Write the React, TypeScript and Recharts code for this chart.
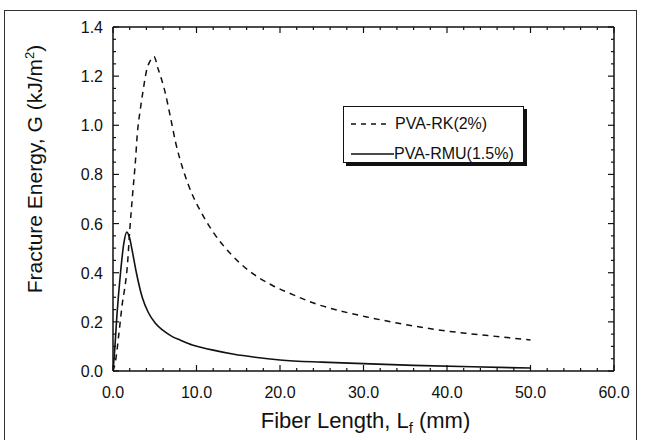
import React from 'react';
import { LineChart, Line, XAxis, YAxis, Legend } from 'recharts';

// ── data: fiber length (mm) vs fracture energy (kJ/m2) ──

const rkLength = [0, 0.3, 0.7, 1.1, 1.5, 1.7, 2.0, 2.35, 2.7, 2.9, 3.25, 3.6, 4.0, 4.5, 4.9, 5.4, 6.2, 6.9, 7.5, 8.3, 9.0, 9.6, 10.5, 11.9, 14.0, 16.4, 19.0, 21.6, 24.4, 27.2, 30.4, 33.6, 36.4, 38.4, 42.4, 46.4, 50];
const rkEnergy = [0, 0.04, 0.15, 0.27, 0.36, 0.42, 0.57, 0.72, 0.86, 0.96, 1.06, 1.14, 1.22, 1.265, 1.28, 1.23, 1.14, 1.03, 0.93, 0.83, 0.76, 0.71, 0.65, 0.57, 0.48, 0.405, 0.35, 0.31, 0.272, 0.245, 0.22, 0.198, 0.181, 0.17, 0.153, 0.139, 0.126];

const rmuLength = [0, 0.15, 0.5, 0.9, 1.3, 1.65, 2.0, 2.3, 2.8, 3.5, 4.2, 5.1, 6.0, 7.1, 8.1, 9.5, 10.5, 12.0, 14.5, 17.0, 20.0, 25.0, 30.0, 36.0, 43.0, 50.0];
const rmuEnergy = [0, 0.06, 0.24, 0.4, 0.52, 0.565, 0.54, 0.49, 0.4, 0.3, 0.24, 0.193, 0.165, 0.14, 0.125, 0.106, 0.097, 0.085, 0.068, 0.056, 0.045, 0.036, 0.03, 0.023, 0.017, 0.012];

const seriesNames = ['PVA-RK(2%)', 'PVA-RMU(1.5%)'];

// ticks: minor every 2 mm / 0.05 kJ/m2, labelled every 10 / 0.2
const xTicks = Array.from({ length: 31 }, (_, i) => i * 2);
const yTicks = Array.from({ length: 29 }, (_, i) => Math.round(i * 5) / 100);

const rkData = rkLength.map((l, i) => ({ l, g: rkEnergy[i] }));
const rmuData = rmuLength.map((l, i) => ({ l, g: rmuEnergy[i] }));

const INK = '#111';
const FONT = '"Liberation Sans", Arial, Helvetica, sans-serif';

const isMajorX = (v: number) => v % 10 === 0;
const isMajorY = (v: number) => Math.round(v * 100) % 20 === 0;

// ── custom inward ticks (tickSize=0, tickMargin=0 → x/y sit on the axis line) ──

const BottomTick = ({ x, y, payload }: any) => {
  const v = payload.value;
  const major = isMajorX(v);
  return (
    <g>
      <line x1={x} y1={y} x2={x} y2={y - (major ? 6 : 3)} stroke={INK} strokeWidth={1.2} />
      {major && (
        <text x={x} y={y + 27} textAnchor="middle" fontSize={16} fontFamily={FONT} fill={INK}>
          {v.toFixed(1)}
        </text>
      )}
    </g>
  );
};

const TopTick = ({ x, y, payload }: any) => {
  const major = isMajorX(payload.value);
  return <line x1={x} y1={y} x2={x} y2={y + (major ? 6 : 3)} stroke={INK} strokeWidth={1.2} />;
};

const LeftTick = ({ x, y, payload }: any) => {
  const v = payload.value;
  const major = isMajorY(v);
  return (
    <g>
      <line x1={x} y1={y} x2={x + (major ? 6 : 3)} y2={y} stroke={INK} strokeWidth={1.2} />
      {major && (
        <text x={x - 10} y={y + 6} textAnchor="end" fontSize={16} fontFamily={FONT} fill={INK}>
          {v.toFixed(1)}
        </text>
      )}
    </g>
  );
};

const RightTick = ({ x, y, payload }: any) => {
  const major = isMajorY(payload.value);
  return <line x1={x} y1={y} x2={x - (major ? 6 : 3)} y2={y} stroke={INK} strokeWidth={1.2} />;
};

// ── axis titles ──

const XTitle = (props: any) => {
  const vb = props.viewBox || { x: 113, y: 371, width: 501, height: 50 };
  return (
    <text x={vb.x + vb.width / 2 + 2} y={vb.y + 57} textAnchor="middle" fontSize={22} fontFamily={FONT} fill={INK}>
      Fiber Length, L
      <tspan dy={5} fontSize={15}>f</tspan>
      <tspan dy={-5}> (mm)</tspan>
    </text>
  );
};

const YTitle = (props: any) => {
  const vb = props.viewBox || { x: 53, y: 27, width: 60, height: 344 };
  const cx = vb.x - 11;
  const cy = vb.y + vb.height / 2 - 30;
  return (
    <text x={cx} y={cy} transform={`rotate(-90, ${cx}, ${cy})`} textAnchor="middle" fontSize={21} fontFamily={FONT} fill={INK}>
      Fracture Energy, G (kJ/m
      <tspan dy={-8} fontSize={13}>2</tspan>
      <tspan dy={8}>)</tspan>
    </text>
  );
};

// ── legend box with drop shadow ──

const LegendBox = () => (
  <div style={{
    position: 'relative', width: 181, height: 57, boxSizing: 'border-box',
    border: `1.5px solid ${INK}`, boxShadow: `3px 3px 0 ${INK}`, background: '#fff',
    fontFamily: FONT, fontSize: 16, color: INK,
  }}>
    {seriesNames.map((name, i) => (
      <div key={name} style={{ position: 'absolute', left: 7, top: 7 + i * 30, height: 20, display: 'flex', alignItems: 'center' }}>
        <svg width={44} height={20} style={{ display: 'block' }}>
          <line x1={0} y1={10} x2={i === 0 ? 37 : 43} y2={10} stroke={INK} strokeWidth={1.3}
            strokeDasharray={i === 0 ? '5 5' : undefined} />
        </svg>
        <span style={{ marginLeft: i === 0 ? 0 : -1, lineHeight: '20px' }}>{name}</span>
      </div>
    ))}
  </div>
);

export default function App() {
  return (
    <div style={{ position: 'absolute', left: 0, top: 0, width: 648, height: 440, background: '#fff', overflow: 'hidden' }}>
      {/* outer frame of the scanned figure */}
      <div style={{ position: 'absolute', left: 4, top: 10, width: 633, height: 440, border: '1.5px solid #333', boxSizing: 'border-box' }} />
      <LineChart width={648} height={440} margin={{ top: 17, right: 24, left: 53, bottom: 19 }} style={{ position: 'absolute', left: 0, top: 0 }}>
        <XAxis
          xAxisId={0}
          type="number"
          dataKey="l"
          domain={[0, 60]}
          ticks={xTicks}
          interval={0}
          allowDataOverflow
          height={50}
          tickSize={0}
          tickMargin={0}
          tickLine={false}
          axisLine={{ stroke: INK, strokeWidth: 1.5 }}
          tick={<BottomTick />}
          label={<XTitle />}
        />
        <XAxis
          xAxisId="top"
          orientation="top"
          type="number"
          dataKey="l"
          domain={[0, 60]}
          ticks={xTicks}
          interval={0}
          allowDataOverflow
          height={10}
          tickSize={0}
          tickMargin={0}
          tickLine={false}
          axisLine={{ stroke: INK, strokeWidth: 1.5 }}
          tick={<TopTick />}
        />
        <YAxis
          yAxisId={0}
          type="number"
          domain={[0, 1.4]}
          ticks={yTicks}
          interval={0}
          allowDataOverflow
          width={60}
          tickSize={0}
          tickMargin={0}
          tickLine={false}
          axisLine={{ stroke: INK, strokeWidth: 1.5 }}
          tick={<LeftTick />}
          label={<YTitle />}
        />
        <YAxis
          yAxisId="right"
          orientation="right"
          type="number"
          domain={[0, 1.4]}
          ticks={yTicks}
          interval={0}
          allowDataOverflow
          width={10}
          tickSize={0}
          tickMargin={0}
          tickLine={false}
          axisLine={{ stroke: INK, strokeWidth: 1.5 }}
          tick={<RightTick />}
        />
        <Legend
          layout="vertical"
          align="center"
          verticalAlign="middle"
          content={<LegendBox />}
          wrapperStyle={{ left: 343, top: 106, width: 'auto', height: 'auto' }}
        />
        <Line
          data={rkData}
          dataKey="g"
          name={seriesNames[0]}
          type="monotone"
          stroke={INK}
          strokeWidth={1.5}
          strokeDasharray="6 5"
          dot={false}
          activeDot={false}
          isAnimationActive={false}
        />
        <Line
          data={rmuData}
          dataKey="g"
          name={seriesNames[1]}
          type="monotone"
          stroke={INK}
          strokeWidth={1.6}
          dot={false}
          activeDot={false}
          isAnimationActive={false}
        />
      </LineChart>
    </div>
  );
}
